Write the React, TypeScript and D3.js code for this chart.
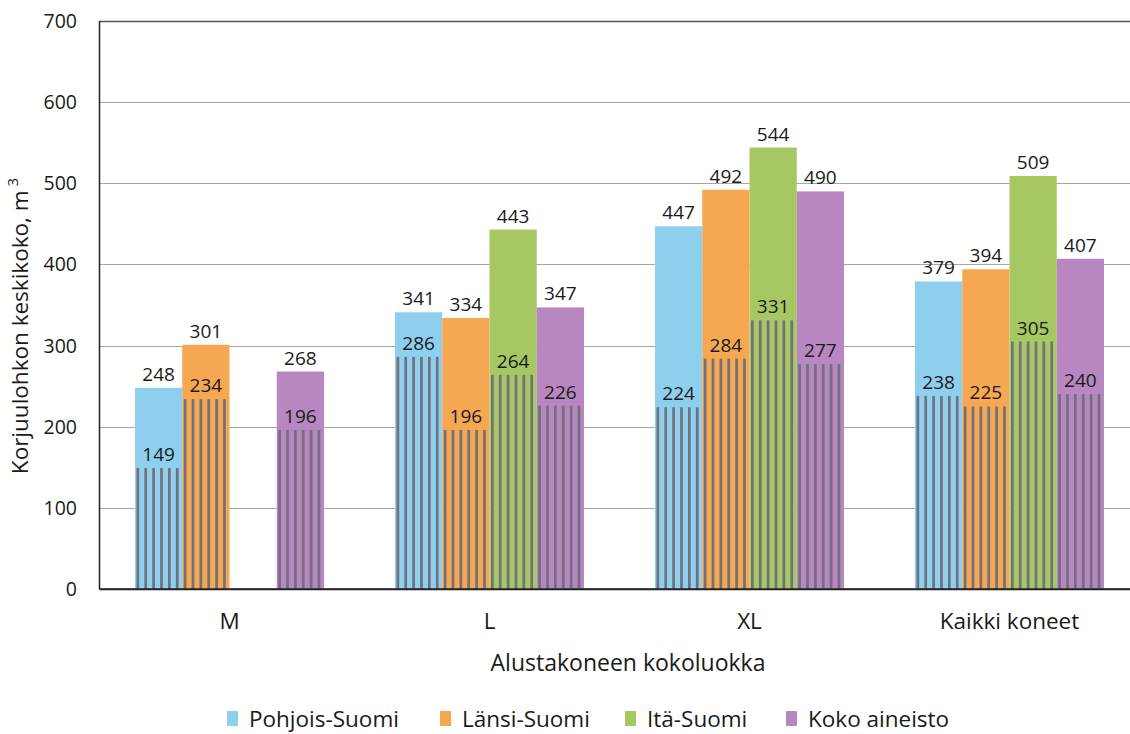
import React from "react";
import * as d3 from "d3";

const categories = ["M", "L", "XL", "Kaikki koneet"];
const seriesNames = ["Pohjois-Suomi", "Länsi-Suomi", "Itä-Suomi", "Koko aineisto"];
const seriesColors = ["#8ecfee", "#f6a751", "#a6c762", "#b886c0"];
// total (outer) values per series, by category
const pohjoisTotal = [248, 341, 447, 379];
const lansiTotal = [301, 334, 492, 394];
const itaTotal: (number | null)[] = [null, 443, 544, 509];
const kokoTotal = [268, 347, 490, 407];
// striped (inner) values per series, by category
const pohjoisInner = [149, 286, 224, 238];
const lansiInner = [234, 196, 284, 225];
const itaInner: (number | null)[] = [null, 264, 331, 305];
const kokoInner = [196, 226, 277, 240];
const yTicks = [0, 100, 200, 300, 400, 500, 600, 700];

const totals = [pohjoisTotal, lansiTotal, itaTotal, kokoTotal];
const inners = [pohjoisInner, lansiInner, itaInner, kokoInner];

const W = 1130;
const H = 734;
const FONT = "'Open Sans', 'Noto Sans', sans-serif";
const TXT = "#1a1a1a";

export default function App() {
  const left = 99.5;
  const step = 260;
  const x = d3
    .scaleBand<string>()
    .domain(categories)
    .range([left, left + step * categories.length])
    .paddingInner(0.273)
    .paddingOuter(0.1365);
  const xs = d3
    .scaleBand<string>()
    .domain(seriesNames)
    .range([0, x.bandwidth()])
    .padding(0);
  const y = d3.scaleLinear().domain([0, 700]).range([589, 21]);

  const bw = xs.bandwidth();
  const nStripes = 6;
  const legendX = [227, 440, 625, 786];

  return (
    <svg
      width={W}
      height={H}
      style={{ position: "absolute", left: 0, top: 0, background: "#fff" }}
      fontFamily={FONT}
    >
      <rect x={0} y={0} width={W} height={H} fill="#fff" />
      {/* gridlines */}
      {yTicks.map((t) => (
        <line
          key={"g" + t}
          x1={left}
          x2={W}
          y1={Math.round(y(t)) + 0.5}
          y2={Math.round(y(t)) + 0.5}
          stroke={t === 700 ? "#555" : t === 0 ? "#222" : "#a6a6a6"}
          strokeWidth={t === 700 || t === 0 ? 1.5 : 1}
        />
      ))}
      {/* bars */}
      {categories.map((c, ci) =>
        seriesNames.map((s, si) => {
          const tot = totals[si][ci];
          const inn = inners[si][ci];
          if (tot == null || inn == null) return null;
          const bx = (x(c) as number) + (xs(s) as number);
          const y0 = y(0);
          const yt = y(tot);
          const yi = y(inn);
          const period = bw / nStripes;
          return (
            <g key={c + s}>
              <rect x={bx} y={yt} width={bw} height={y0 - yt} fill={seriesColors[si]} />
              {d3.range(nStripes).map((k) => (
                <rect
                  key={k}
                  x={bx + 1.5 + k * period}
                  y={yi}
                  width={2.7}
                  height={y0 - yi}
                  fill="#6f727c"
                />
              ))}
              <text
                x={bx + bw / 2}
                y={yt - 7}
                textAnchor="middle"
                fontSize={19}
                fill={TXT}
              >
                {tot}
              </text>
              <text
                x={bx + bw / 2}
                y={yi - 7}
                textAnchor="middle"
                fontSize={19}
                fill={TXT}
              >
                {inn}
              </text>
            </g>
          );
        })
      )}
      {/* axes lines */}
      <line x1={left} x2={left} y1={y(700)} y2={y(0)} stroke="#222" strokeWidth={1.5} />
      <line x1={left} x2={W} y1={y(0)} y2={y(0)} stroke="#222" strokeWidth={1.5} />
      {/* y tick labels */}
      {yTicks.map((t) => (
        <text
          key={"yt" + t}
          x={77}
          y={y(t) + 7}
          textAnchor="end"
          fontSize={19.5}
          fill={TXT}
        >
          {t}
        </text>
      ))}
      {/* x tick labels */}
      {categories.map((c) => (
        <text
          key={"xt" + c}
          x={(x(c) as number) + x.bandwidth() / 2}
          y={629}
          textAnchor="middle"
          fontSize={22.5}
          fill={TXT}
        >
          {c}
        </text>
      ))}
      {/* axis titles */}
      <text x={628} y={671} textAnchor="middle" fontSize={23} fill={TXT}>
        Alustakoneen kokoluokka
      </text>
      <text
        transform={`translate(28, 326) rotate(-90)`}
        textAnchor="middle"
        fontSize={22.5}
        fill={TXT}
      >
        Korjuulohkon keskikoko, m
        <tspan fontSize={15} dy={-10} dx={4}>
          3
        </tspan>
      </text>
      {/* legend */}
      {seriesNames.map((s, i) => {
        const lx = legendX[i];
        return (
          <g key={"lg" + s}>
            <rect x={lx} y={711} width={11} height={15} fill={seriesColors[i]} />
            <text x={lx + 22} y={727} fontSize={22.5} fill={TXT}>
              {s}
            </text>
          </g>
        );
      })}
    </svg>
  );
}
